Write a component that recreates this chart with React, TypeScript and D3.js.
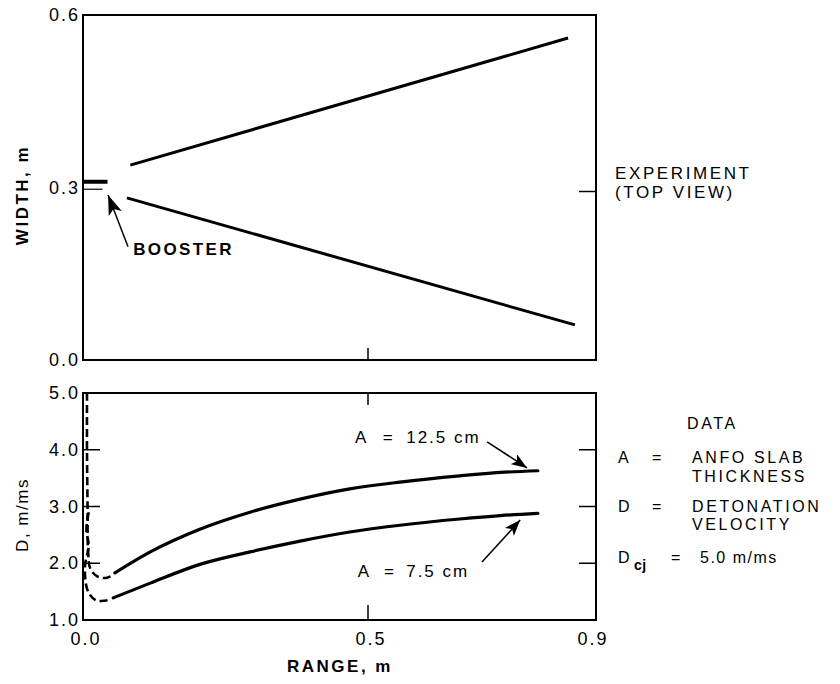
import React from "react";
import * as d3 from "d3";

// ---------- data ----------
const xTicks = [0.0, 0.5, 0.9];
const widthTicks = [0.0, 0.3, 0.6];
const dTicks = [1.0, 2.0, 3.0, 4.0, 5.0];

// top panel: experiment top view (range, width)
const slabUpper: [number, number][] = [[0.083, 0.339], [0.851, 0.56]];
const slabLower: [number, number][] = [[0.077, 0.282], [0.863, 0.061]];
const boosterThick: [number, number][] = [[0.0, 0.31], [0.043, 0.31]];
const boosterThin: [number, number][] = [[0.0, 0.297], [0.034, 0.297]];

// bottom panel: detonation velocity (range, D)
const rangeA125 = [0.056, 0.118, 0.205, 0.293, 0.381, 0.468, 0.556, 0.661, 0.732, 0.798];
const dA125 = [1.83, 2.2, 2.6, 2.9, 3.13, 3.31, 3.43, 3.54, 3.6, 3.63];
const rangeA75 = [0.053, 0.118, 0.205, 0.293, 0.381, 0.468, 0.556, 0.661, 0.732, 0.798];
const dA75 = [1.39, 1.65, 1.98, 2.2, 2.39, 2.55, 2.67, 2.78, 2.84, 2.88];

const dashRangeA125 = [0.007, 0.007, 0.008, 0.009, 0.013, 0.025, 0.04, 0.05];
const dashDA125 = [5.0, 4.0, 3.0, 2.2, 1.9, 1.77, 1.74, 1.78];
const dashRangeA75 = [0.01, 0.006, 0.01, 0.004, 0.004, 0.009, 0.022, 0.038, 0.047];
const dashDA75 = [2.9, 2.6, 2.3, 2.0, 1.72, 1.5, 1.35, 1.34, 1.36];

// annotation anchors in data units
const boosterArrow: [number, number][] = [[0.079, 0.197], [0.044, 0.287]];
const arrowA125: [number, number][] = [[0.709, 4.14], [0.779, 3.68]];
const arrowA75: [number, number][] = [[0.7, 2.02], [0.767, 2.76]];

const FONT = "'Liberation Sans', Arial, Helvetica, sans-serif";

export default function App() {
  const W = 840;
  const H = 684;
  const x = d3.scaleLinear().domain([0, 0.9]).range([83, 596]);
  const yTop = d3.scaleLinear().domain([0, 0.6]).range([360, 15]);
  const yBot = d3.scaleLinear().domain([1, 5]).range([620, 393]);

  const lineTop = d3.line<[number, number]>().x((d) => x(d[0])).y((d) => yTop(d[1]));
  const lineBot = d3
    .line<[number, number]>()
    .x((d) => x(d[0]))
    .y((d) => yBot(d[1]))
    .curve(d3.curveCatmullRom.alpha(0.5));
  const lineSmooth = d3
    .line<[number, number]>()
    .x((d) => x(d[0]))
    .y((d) => yBot(d[1]))
    .curve(d3.curveMonotoneX);
  const lineBotStraight = d3.line<[number, number]>().x((d) => x(d[0])).y((d) => yBot(d[1]));

  const zip = (a: number[], b: number[]) => a.map((v, i) => [v, b[i]] as [number, number]);

  const x0 = x(0);
  const x1 = x(0.9);
  const tickLen = 17;

  return (
    <svg width={W} height={H} style={{ display: "block", position: "absolute", left: 0, top: 0, background: "#fff" }}>
      <defs>
        <marker id="ah" markerUnits="userSpaceOnUse" markerWidth="18" markerHeight="12" refX="16" refY="6" orient="auto">
          <path d="M0,0 L16,6 L0,12 L4,6 Z" fill="#000" />
        </marker>
        <marker id="ahb" markerUnits="userSpaceOnUse" markerWidth="22" markerHeight="14" refX="20" refY="7" orient="auto">
          <path d="M0,0 L20,7 L0,14 L5,7 Z" fill="#000" />
        </marker>
      </defs>
      <rect width={W} height={H} fill="#fff" />

      {/* ---------- TOP PANEL ---------- */}
      <rect x={x0} y={yTop(0.6)} width={x1 - x0} height={yTop(0) - yTop(0.6)} fill="none" stroke="#000" strokeWidth={2} />
      <line x1={x1} x2={x1 - tickLen} y1={yTop(0.3) + 4} y2={yTop(0.3) + 4} stroke="#000" strokeWidth={1.5} />
      <line x1={x(0.5)} x2={x(0.5)} y1={yTop(0)} y2={yTop(0) - 12} stroke="#000" strokeWidth={1.5} />
      {widthTicks.map((t) => (
        <text key={t} x={80} y={yTop(t) + 6} textAnchor="end" fontFamily={FONT} fontSize={18} letterSpacing={2}>
          {t.toFixed(1)}
        </text>
      ))}
      <text
        transform={`translate(28,${195}) rotate(-90)`}
        textAnchor="middle"
        fontFamily={FONT}
        fontSize={17}
        fontWeight="bold"
        letterSpacing={2.5}
      >
        WIDTH, m
      </text>
      <path d={lineTop(slabUpper) || ""} stroke="#000" strokeWidth={3} fill="none" />
      <path d={lineTop(slabLower) || ""} stroke="#000" strokeWidth={3} fill="none" />
      <path d={lineTop(boosterThick) || ""} stroke="#000" strokeWidth={4} fill="none" />
      <path d={lineTop(boosterThin) || ""} stroke="#000" strokeWidth={1.2} fill="none" />
      <path d={lineTop(boosterArrow) || ""} stroke="#000" strokeWidth={1.5} fill="none" markerEnd="url(#ahb)" />
      <text x={x(0.088)} y={yTop(0.195) + 7} fontFamily={FONT} fontSize={17} fontWeight="bold" letterSpacing={2.4}>
        BOOSTER
      </text>

      <g fontFamily={FONT} fontSize={17} letterSpacing={2.6}>
        <text x={615} y={179}>EXPERIMENT</text>
        <text x={615} y={198}>(TOP VIEW)</text>
      </g>

      {/* ---------- BOTTOM PANEL ---------- */}
      <rect x={x0} y={yBot(5)} width={x1 - x0} height={yBot(1) - yBot(5)} fill="none" stroke="#000" strokeWidth={2} />
      {[2, 3, 4].map((t) => (
        <g key={t}>
          <line x1={x0} x2={x0 + tickLen} y1={yBot(t)} y2={yBot(t)} stroke="#000" strokeWidth={1.5} />
          <line x1={x1} x2={x1 - tickLen} y1={yBot(t)} y2={yBot(t)} stroke="#000" strokeWidth={1.5} />
        </g>
      ))}
      <line x1={x(0.5)} x2={x(0.5)} y1={yBot(1)} y2={yBot(1) - 15} stroke="#000" strokeWidth={1.5} />
      <line x1={x(0.5)} x2={x(0.5)} y1={yBot(5)} y2={yBot(5) + 12} stroke="#000" strokeWidth={1.5} />
      {dTicks.map((t) => (
        <text key={t} x={80} y={yBot(t) + 6} textAnchor="end" fontFamily={FONT} fontSize={18} letterSpacing={2}>
          {t.toFixed(1)}
        </text>
      ))}
      {xTicks.map((t) => (
        <text
          key={t}
          x={t === 0.9 ? x(t) - 3 : x(t) + 3}
          y={645}
          textAnchor="middle"
          fontFamily={FONT}
          fontSize={18}
          letterSpacing={2}
        >
          {t.toFixed(1)}
        </text>
      ))}
      <text x={340} y={672} textAnchor="middle" fontFamily={FONT} fontSize={17} fontWeight="bold" letterSpacing={2.5}>
        RANGE, m
      </text>
      <text
        transform={`translate(28,${515}) rotate(-90)`}
        textAnchor="middle"
        fontFamily={FONT}
        fontSize={17}
        letterSpacing={1.5}
      >
        D, m/ms
      </text>

      {/* curves */}
      <path d={lineSmooth(zip(rangeA125, dA125)) || ""} stroke="#000" strokeWidth={3.2} fill="none" strokeLinecap="round" />
      <path d={lineSmooth(zip(rangeA75, dA75)) || ""} stroke="#000" strokeWidth={3.2} fill="none" strokeLinecap="round" />
      <path
        d={lineBot(zip(dashRangeA125, dashDA125)) || ""}
        stroke="#000"
        strokeWidth={2.6}
        fill="none"
        strokeDasharray="8,4"
      />
      <path
        d={lineBot(zip(dashRangeA75, dashDA75)) || ""}
        stroke="#000"
        strokeWidth={2.6}
        fill="none"
        strokeDasharray="8,4"
      />

      {/* annotations */}
      <path d={lineBotStraight(arrowA125) || ""} stroke="#000" strokeWidth={1.5} fill="none" markerEnd="url(#ah)" />
      <path d={lineBotStraight(arrowA75) || ""} stroke="#000" strokeWidth={1.5} fill="none" markerEnd="url(#ah)" />
      <g fontFamily={FONT} fontSize={17} letterSpacing={2}>
        <text x={x(0.477)} y={yBot(4.12)}>A</text>
        <text x={x(0.526)} y={yBot(4.12)}>=</text>
        <text x={x(0.567)} y={yBot(4.12)}>12.5 cm</text>
        <text x={x(0.482)} y={yBot(1.76)}>A</text>
        <text x={x(0.528)} y={yBot(1.76)}>=</text>
        <text x={x(0.567)} y={yBot(1.76)}>7.5 cm</text>
      </g>

      {/* right legend */}
      <g fontFamily={FONT} fontSize={16} letterSpacing={2.6}>
        <text x={687} y={429}>DATA</text>
        <text x={618} y={463}>A</text>
        <text x={652} y={463}>=</text>
        <text x={692} y={463}>ANFO SLAB</text>
        <text x={692} y={482}>THICKNESS</text>
        <text x={618} y={512}>D</text>
        <text x={652} y={512}>=</text>
        <text x={692} y={512}>DETONATION</text>
        <text x={692} y={530}>VELOCITY</text>
        <text x={618} y={563}>D</text>
        <text x={634} y={570} fontWeight="bold" fontSize={14} letterSpacing={0.5}>cj</text>
        <text x={671} y={563}>=</text>
        <text x={700} y={563} letterSpacing={1.5}>5.0 m/ms</text>
      </g>
    </svg>
  );
}
